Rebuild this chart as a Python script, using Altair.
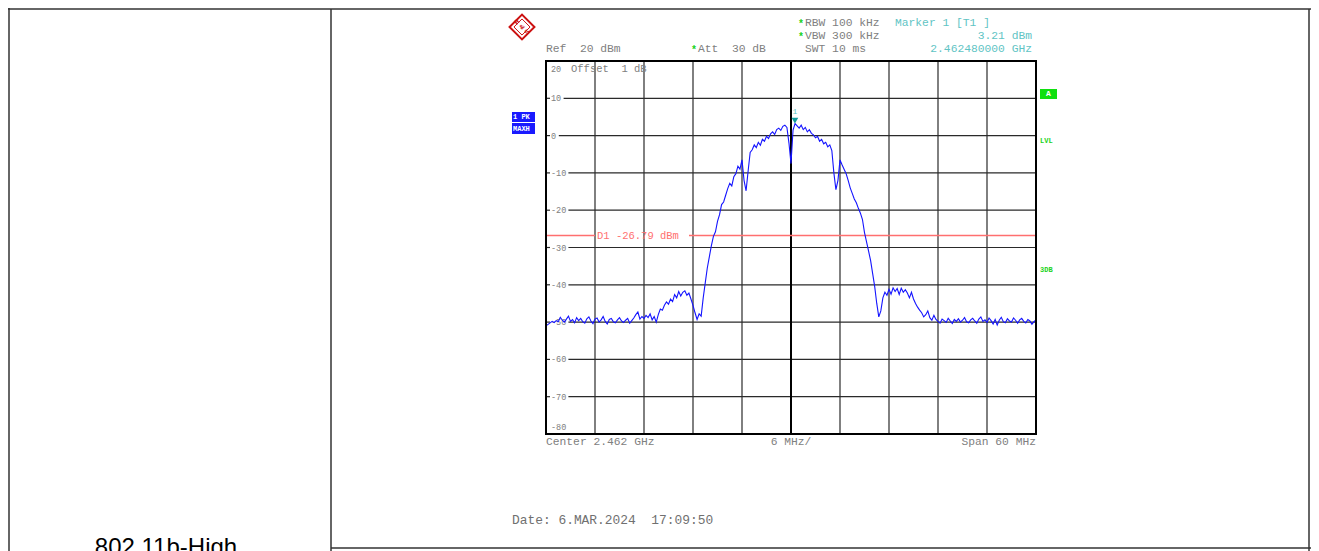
import altair as alt
import pandas as pd

# ---------------- data ----------------
START_GHZ = 2.432
STOP_GHZ = 2.492
CENTER_GHZ = 2.462
REF_TOP = 20
REF_BOTTOM = -80

LEVELS = [
    -51.0, -50.6, -50.2, -49.8, -50.1, -49.6, -49.9, -48.7, -49.5, -50.0,
    -49.2, -48.4, -49.8, -49.3, -50.2, -48.8, -49.6, -49.0, -49.9, -50.3,
    -49.1, -48.6, -49.7, -50.4, -49.2, -48.9, -50.0, -49.4, -48.5, -49.8,
    -50.5, -49.3, -49.0, -49.9, -50.2, -49.4, -48.8, -49.7, -50.1, -49.5,
    -49.0, -50.3, -49.6, -48.9, -48.0, -47.3, -49.2, -48.5, -49.0, -48.2,
    -48.8, -47.8, -49.4, -48.5,
    -50.0, -48.0, -46.5, -46.8, -45.5, -44.6, -45.2, -43.8, -44.5, -42.6,
    -43.5, -41.8, -43.0, -42.0, -41.6, -42.8, -42.2, -43.8, -45.5, -47.5,
    -49.3, -47.8, -48.4, -43.5, -39.5, -35.5, -32.5, -29.5, -27.0, -25.8,
    -23.0, -21.2, -18.5, -17.8, -16.0, -14.2, -12.8, -13.5, -11.0, -10.2,
    -8.2, -9.0, -6.5, -12.0, -14.8, -9.5, -4.5, -3.8, -2.5, -3.2,
    -1.8, -2.6, -1.0, -1.5, -0.2, -0.8, 0.5, 1.0, 0.3, 1.6,
    2.0, 1.4, 2.5, 2.8, 2.2, -2.0, -7.5, 1.5, 3.2, 2.6,
    2.0, 2.8, 1.6, 2.2, 1.0, 1.6, 0.6, 0.2, -0.6, -0.2,
    -1.5, -1.0, -2.2, -1.8, -3.0, -2.5, -4.0, -10.0, -14.5, -12.0,
    -6.5, -7.8, -9.0, -10.2, -12.0, -14.0, -15.5, -17.0, -18.0, -19.5,
    -20.8, -22.5, -26.0, -28.5, -31.0, -33.5, -37.0, -40.5, -45.0, -48.6,
    -47.0, -43.5, -42.0, -42.8, -41.2, -42.5, -40.8, -41.8, -41.0, -42.6,
    -40.9, -42.0, -41.3, -42.2, -43.5, -42.0, -43.8, -45.0, -46.0, -46.8,
    -47.5, -48.6, -48.0, -47.0, -48.8, -49.5, -48.2, -49.3,
    -49.8, -50.3, -49.2, -49.6, -50.1, -49.0, -49.7, -50.4, -49.3, -49.8,
    -49.1, -50.0, -49.5, -48.8, -49.9, -50.2, -49.4, -49.0, -49.7, -50.3,
    -49.2, -48.6, -49.8, -49.4, -50.1, -48.9, -49.6, -50.5, -49.3, -50.8,
    -49.5, -48.7, -49.9, -50.2, -49.1, -49.7, -50.0, -48.9, -49.5, -50.3,
    -49.4, -49.0, -49.8, -50.2, -49.3, -49.7, -50.6, -49.9, -49.4,
]
STEP = (STOP_GHZ - START_GHZ) / (len(LEVELS) - 1)
FREQS = [START_GHZ + STEP * i for i in range(len(LEVELS))]

V_GRID = [2.438, 2.444, 2.450, 2.456, 2.468, 2.474, 2.480, 2.486]
H_GRID = [10, 0, -10, -20, -30, -40, -50, -60, -70]
H_LABELS = ["10", "0", "-10", "-20", "-30", "-40", "-50", "-60", "-70"]
D1_LEVEL = -26.79
MARKER_F = 2.46248
MARKER_L = 3.21

# ---------------- styling ----------------
W, H = 490, 373
MONO = "Liberation Mono"
GRAY = "#808080"
CYAN = "#5fc4c4"
GREEN = "#19d219"
SALMON = "#ff6f6f"
TEAL = "#109c9c"
BLUE = "#1414ff"
NB = "\u00a0"

xsc = alt.Scale(domain=[START_GHZ, STOP_GHZ], nice=False, zero=False)
ysc = alt.Scale(domain=[REF_BOTTOM, REF_TOP], nice=False, zero=False)

one = pd.DataFrame({"a": [0]})
trace = pd.DataFrame({"f": FREQS, "lv": LEVELS})
vgrid = pd.DataFrame({"f": V_GRID})
ticks = pd.DataFrame({"lv": H_GRID})


def sp(s):
    return s.replace(" ", NB)


def txt(s, x, y, color=GRAY, size=11.3, align="left", font=MONO, baseline="middle", **kw):
    return alt.Chart(one).mark_text(
        text=sp(s) if font == MONO else s, align=align, baseline=baseline,
        font=font, fontSize=size, color=color, **kw
    ).encode(x=alt.value(x), y=alt.value(y))


def hline(x1, x2, y, color="#333333", w=1.5):
    return alt.Chart(one).mark_rule(color=color, strokeWidth=w).encode(
        x=alt.value(x1), x2=alt.value(x2), y=alt.value(y))


def vline(x, y1, y2, color="#333333", w=1.5):
    return alt.Chart(one).mark_rule(color=color, strokeWidth=w).encode(
        x=alt.value(x), y=alt.value(y1), y2=alt.value(y2))


def box(x1, x2, y1, y2, fill):
    return alt.Chart(one).mark_rect(color=fill).encode(
        x=alt.value(x1), x2=alt.value(x2), y=alt.value(y1), y2=alt.value(y2))


layers = []

# vertical grid
layers.append(
    alt.Chart(vgrid).mark_rule(color="#2a2a2a", strokeWidth=1.2).encode(
        x=alt.X("f:Q", scale=xsc, axis=None),
        y=alt.value(0), y2=alt.value(H))
)
# horizontal grid with gap for labels, plus left ticks
for lv, lab in zip(H_GRID, H_LABELS):
    xs = 5 + 4.8 * len(lab) + 3
    layers.append(
        alt.Chart(one).mark_rule(color="#2a2a2a", strokeWidth=1.2).encode(
            x=alt.value(xs), x2=alt.value(W),
            y=alt.Y(datum=lv, scale=ysc, axis=None))
    )
layers.append(
    alt.Chart(ticks).mark_rule(color="#2a2a2a", strokeWidth=1.2).encode(
        x=alt.value(0), x2=alt.value(4),
        y=alt.Y("lv:Q", scale=ysc, axis=None))
)
# y labels
for lv, lab in zip(H_GRID, H_LABELS):
    layers.append(
        alt.Chart(one).mark_text(text=lab, align="left", baseline="middle",
                                 font=MONO, fontSize=8.5, color=GRAY).encode(
            x=alt.value(5), y=alt.Y(datum=lv, scale=ysc, axis=None))
    )
layers.append(txt("20", 5, 8, size=8.5))
layers.append(txt("-80", 5, 366, size=8.5))
layers.append(txt("Offset  1 dB", 25, 8, size=10.5))

# center line (thicker)
layers.append(
    alt.Chart(one).mark_rule(color="black", strokeWidth=2).encode(
        x=alt.X(datum=CENTER_GHZ, scale=xsc, axis=None),
        y=alt.value(0), y2=alt.value(H))
)

# D1 display line
layers.append(
    alt.Chart(one).mark_rule(color=SALMON, strokeWidth=1.5).encode(
        x=alt.value(0), x2=alt.value(49),
        y=alt.Y(datum=D1_LEVEL, scale=ysc, axis=None))
)
layers.append(
    alt.Chart(one).mark_rule(color=SALMON, strokeWidth=1.5).encode(
        x=alt.value(143), x2=alt.value(W),
        y=alt.Y(datum=D1_LEVEL, scale=ysc, axis=None))
)
layers.append(
    alt.Chart(one).mark_text(text=sp("D1 -26.79 dBm"), align="left", baseline="middle",
                             font=MONO, fontSize=10.5, color=SALMON).encode(
        x=alt.value(51), y=alt.Y(datum=D1_LEVEL, scale=ysc, axis=None))
)

# trace
layers.append(
    alt.Chart(trace).mark_line(color=BLUE, strokeWidth=1.1).encode(
        x=alt.X("f:Q", scale=xsc, axis=None),
        y=alt.Y("lv:Q", scale=ysc, axis=None))
)

# marker
layers.append(
    alt.Chart(one).mark_point(shape="triangle-down", filled=True, color=TEAL,
                              size=45, opacity=1, yOffset=-3).encode(
        x=alt.X(datum=MARKER_F, scale=xsc, axis=None),
        y=alt.Y(datum=MARKER_L, scale=ysc, axis=None))
)
layers.append(
    alt.Chart(one).mark_text(text="1", font=MONO, fontSize=8, color=CYAN,
                             dy=-12).encode(
        x=alt.X(datum=MARKER_F, scale=xsc, axis=None),
        y=alt.Y(datum=MARKER_L, scale=ysc, axis=None))
)

# frame
layers.append(
    alt.Chart(one).mark_rect(fill=None, stroke="black", strokeWidth=2).encode(
        x=alt.value(0), x2=alt.value(W), y=alt.value(0), y2=alt.value(H))
)

# header texts
layers += [
    txt("*", 252, -37, color=GREEN, size=10, fontWeight="bold"),
    txt("RBW 100 kHz", 259, -38),
    txt("*", 252, -24, color=GREEN, size=10, fontWeight="bold"),
    txt("VBW 300 kHz", 259, -25),
    txt("Marker 1 [T1 ]", 349, -38, color=CYAN),
    txt("3.21 dBm", 486, -25, color=CYAN, align="right"),
    txt("2.462480000 GHz", 486, -12, color=CYAN, align="right"),
    txt("Ref  20 dBm", 0, -12),
    txt("*", 145, -11, color=GREEN, size=10, fontWeight="bold"),
    txt("Att  30 dB", 152, -12),
    txt("SWT 10 ms", 259, -12),
    txt("Center 2.462 GHz", 0, 381),
    txt("6 MHz/", 245, 381, align="center"),
    txt("Span 60 MHz", W, 381, align="right"),
    txt("Date: 6.MAR.2024  17:09:50", -34, 459, color="#707070", size=12.9),
]

# trace info boxes (left)
layers += [
    box(-34, -11, 51, 61, "#1a1aff"),
    box(-34, -11, 62, 73, "#1a1aff"),
    txt("1 PK", -33, 56, color="white", size=7, fontWeight="bold"),
    txt("MAXH", -33, 67.5, color="white", size=7, fontWeight="bold"),
]

# right side indicators
layers += [
    box(494, 511, 28, 38, "#10e010"),
    txt("A", 502.5, 33, color="white", size=8, align="center", fontWeight="bold"),
    txt("LVL", 494, 80, color=GREEN, size=7, fontWeight="bold"),
    txt("3DB", 494, 209, color=GREEN, size=7, fontWeight="bold"),
]

# R&S logo
layers += [
    alt.Chart(one).mark_point(shape="diamond", filled=False, color="#cc1111",
                              strokeWidth=2, size=620, opacity=1).encode(
        x=alt.value(-24), y=alt.value(-34)),
    alt.Chart(one).mark_point(shape="diamond", filled=False, color="#cc1111",
                              strokeWidth=1, size=260, opacity=1).encode(
        x=alt.value(-24), y=alt.value(-34)),
    txt("R", -29, -39, color="#cc1111", size=6.5, align="center", font="Liberation Sans", angle=315, fontWeight="bold"),
    txt("&", -24, -34, color="#cc1111", size=6.5, align="center", font="Liberation Sans", angle=315, fontWeight="bold"),
    txt("S", -19, -29, color="#cc1111", size=6.5, align="center", font="Liberation Sans", angle=315, fontWeight="bold"),
]

# surrounding table lines
layers += [
    hline(-538, 765, -52),
    vline(-537, -53, 495),
    vline(-215, -52, 495),
    vline(763, -52, 495),
    hline(-215, 765, 487),
    txt("802.11b-High", -380, 494, color="black", size=24, align="center",
        font="Liberation Sans", baseline="alphabetic"),
]

chart = alt.layer(*layers).properties(
    width=W, height=H,
    padding={"left": 538, "top": 53, "right": 275, "bottom": 117},
    autosize=alt.AutoSizeParams(type="none"),
    background="white",
).configure_view(stroke=None)

chart.save("out.html", embed_options={"renderer": "svg", "actions": False})
